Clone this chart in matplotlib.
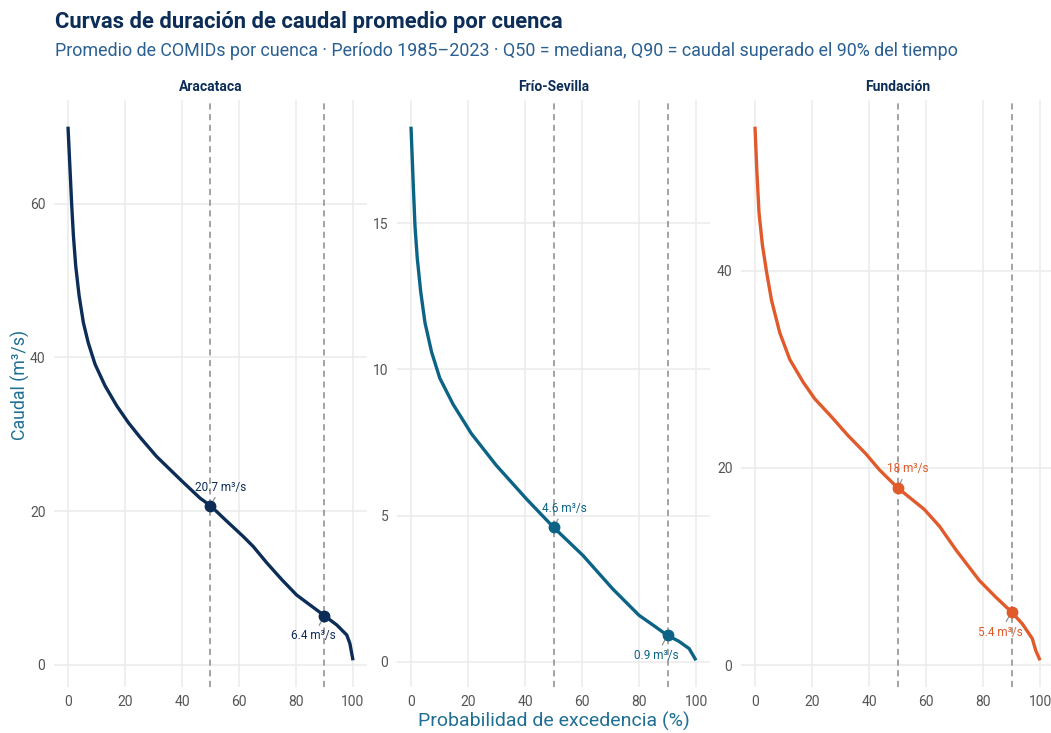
import matplotlib
matplotlib.use("Agg")
import matplotlib.pyplot as plt

plt.rcParams["font.family"] = ["Roboto", "DejaVu Sans"]

# exceedance probability (%) and mean flow (m3/s)
cuencas = ["Aracataca", "Frío-Sevilla", "Fundación"]
colores = ["#0c2d57", "#0b6385", "#e05a2b"]

x_ara = [0, 0.7, 1.3, 1.9, 2.7, 3.9, 5.4, 7.1, 9.5, 13, 17.1, 21.2, 25.3, 31.1, 40, 46.3, 50,
         55.7, 61.5, 65, 69.7, 75, 80.2, 84.9, 90, 94.3, 97.8, 98.9, 100]
y_ara = [70.0, 64.5, 59.8, 55.8, 51.9, 48.0, 44.5, 41.9, 39.1, 36.3, 33.7, 31.5, 29.6, 27.1, 23.9, 21.7, 20.7,
         18.7, 16.7, 15.4, 13.3, 11.1, 9.1, 7.8, 6.4, 5.2, 3.9, 2.8, 0.6]

x_fri = [0, 0.8, 1.4, 2.2, 3.4, 4.9, 7.2, 10.1, 14.8, 21.2, 29.9, 40.4, 50, 60.3, 70.7, 80, 85, 90, 94, 97.6, 100]
y_fri = [18.3, 16.3, 14.9, 13.8, 12.66, 11.6, 10.6, 9.7, 8.8, 7.8, 6.72, 5.58, 4.6, 3.64, 2.5, 1.59, 1.25, 0.9, 0.7, 0.45, 0.05]

x_fun = [0, 0.6, 1.4, 2.6, 4.1, 5.8, 8.7, 12.2, 16.9, 21, 26.8, 32.6, 39, 43.7, 50, 59.4, 64.7, 70.5,
         78.7, 84.5, 90, 93.8, 97.3, 98.5, 100]
y_fun = [54.6, 50.4, 45.9, 42.6, 39.8, 37.0, 33.7, 31.0, 28.7, 27.0, 25.2, 23.3, 21.4, 19.8, 18.0, 15.8, 14.1, 11.7,
         8.6, 6.9, 5.4, 4.2, 2.7, 1.5, 0.5]

q50 = [20.7, 4.6, 18.0]
q90 = [6.4, 0.9, 5.4]
q50_txt = ["20.7 m³/s", "4.6 m³/s", "18 m³/s"]
q90_txt = ["6.4 m³/s", "0.9 m³/s", "5.4 m³/s"]

y_ticks = [[0, 20, 40, 60], [0, 5, 10, 15], [0, 20, 40]]
x_ticks = [0, 20, 40, 60, 80, 100]

series = [(x_ara, y_ara), (x_fri, y_fri), (x_fun, y_fun)]

W, H = 1051, 733
fig = plt.figure(figsize=(W / 100, H / 100), dpi=100)
fig.patch.set_facecolor("white")

lefts = [53.75, 396.75, 740.75]
pw = 313.5
top_px, bot_px = 100, 687

for i, (xs, ys) in enumerate(series):
    ax = fig.add_axes([lefts[i] / W, 1 - bot_px / H, pw / W, (bot_px - top_px) / H])
    col = colores[i]
    for sp in ax.spines.values():
        sp.set_visible(False)
    ax.set_xlim(-5, 105)
    span = max(ys) - min(ys)
    ax.set_ylim(min(ys) - 0.05 * span, max(ys) + 0.05 * span)
    ax.set_xticks(x_ticks)
    ax.set_yticks(y_ticks[i])
    ax.grid(True, color="#ebebeb", lw=1.1)
    ax.set_axisbelow(True)
    ax.tick_params(length=0, labelsize=10, colors="#555555", pad=6)

    for v in (50, 90):
        ax.axvline(v, color="#8a8a8a", lw=1.1, ls=(0, (4, 3)), zorder=1)
    ax.plot(xs, ys, color=col, lw=2.4, zorder=3, solid_capstyle="butt", solid_joinstyle="round")

    ax.plot([50, 90], [q50[i], q90[i]], "o", color=col, ms=7.5, zorder=4)
    ax.annotate(q50_txt[i], (50, q50[i]), xytext=(7.5, 13.5), textcoords="offset points",
                ha="center", va="center", fontsize=8.5, color=col,
                arrowprops=dict(arrowstyle="-", color="#888888", lw=0.8, shrinkA=1, shrinkB=4))
    ax.annotate(q90_txt[i], (90, q90[i]), xytext=(-8, -14.5), textcoords="offset points",
                ha="center", va="center", fontsize=8.5, color=col,
                arrowprops=dict(arrowstyle="-", color="#888888", lw=0.8, shrinkA=1, shrinkB=4))

    fig.text((lefts[i] + pw / 2) / W, 1 - 87 / H, cuencas[i], ha="center", va="center",
             fontsize=10, fontweight="bold", color="#0c2d57")

fig.text(55 / W, 1 - 11 / H, "Curvas de duración de caudal promedio por cuenca",
         ha="left", va="top", fontsize=15.8, fontweight="bold", color="#0c2d57")
fig.text(55 / W, 1 - 42 / H,
         "Promedio de COMIDs por cuenca · Período 1985–2023 · Q50 = mediana, Q90 = caudal superado el 90% del tiempo",
         ha="left", va="top", fontsize=12.9, color="#2a5f92")
fig.text(20 / W, 1 - 385 / H, "Caudal (m³/s)", rotation=90, ha="center", va="center",
         fontsize=12.8, color="#1f6f94")
fig.text(554 / W, 1 - 721 / H, "Probabilidad de excedencia (%)", ha="center", va="center",
         fontsize=14, color="#1f6f94")

fig.savefig("out.png", dpi=100, facecolor="white")
